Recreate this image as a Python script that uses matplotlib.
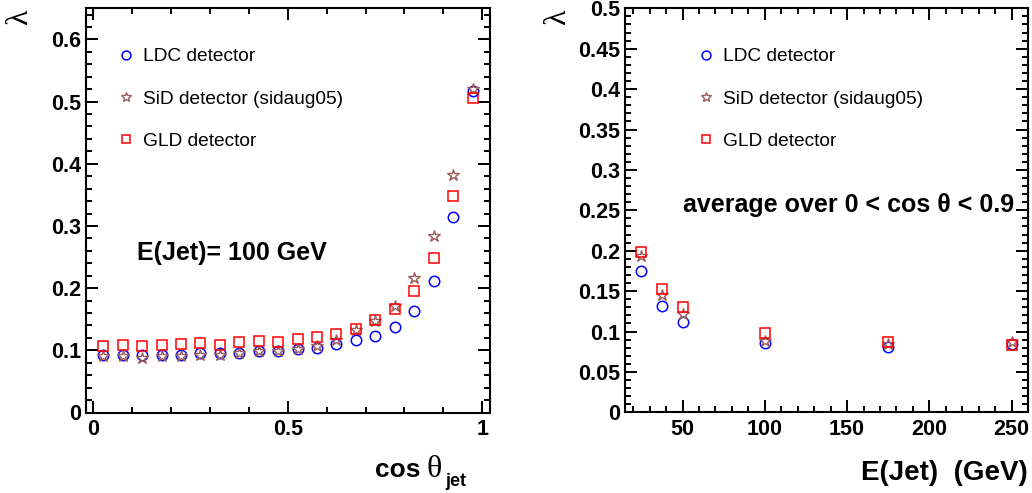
import matplotlib
matplotlib.use("Agg")
import matplotlib.pyplot as plt
from matplotlib.ticker import MultipleLocator, FuncFormatter

# ---- data -------------------------------------------------------------
cos_theta = [0.025, 0.075, 0.125, 0.175, 0.225, 0.275, 0.325, 0.375, 0.425, 0.475,
             0.525, 0.575, 0.625, 0.675, 0.725, 0.775, 0.825, 0.875, 0.925, 0.975]
ldc_cos = [0.0925, 0.0925, 0.0925, 0.0925, 0.093, 0.095, 0.0963, 0.0963, 0.0995, 0.0995,
           0.1016, 0.104, 0.110, 0.116, 0.123, 0.137, 0.163, 0.211, 0.315, 0.517]
sid_cos = [0.0904, 0.091, 0.0877, 0.091, 0.0914, 0.0925, 0.093, 0.0963, 0.0995, 0.0995,
           0.1016, 0.1064, 0.117, 0.132, 0.1476, 0.172, 0.2166, 0.2845, 0.3824, 0.520]
gld_cos = [0.1064, 0.108, 0.1075, 0.1086, 0.1102, 0.1118, 0.1091, 0.1134, 0.1155, 0.1139,
           0.1182, 0.1214, 0.1267, 0.1348, 0.1492, 0.1658, 0.1947, 0.248, 0.3487, 0.5053]

e_jet = [25, 37.5, 50, 100, 175, 250]
ldc_e = [0.1746, 0.1317, 0.1116, 0.0861, 0.0802, 0.0844]
sid_e = [0.194, 0.1453, 0.1219, 0.0881, 0.0848, 0.0869]
gld_e = [0.198, 0.1527, 0.1305, 0.0984, 0.0869, 0.0827]

labels = ["LDC detector", "SiD detector (sidaug05)", "GLD detector"]

# ---- styling ----------------------------------------------------------
SANS = "Liberation Sans"
SERIF = "Liberation Serif"
C_LDC = "#0000ff"
C_SID = "#9a5c5c"
C_GLD = "#ff0000"

W, H = 1032, 493
fig = plt.figure(figsize=(W / 100, H / 100), dpi=100)


def axes_px(left, top, right, bottom):
    return fig.add_axes([left / W, 1 - bottom / H, (right - left) / W, (bottom - top) / H])


def fmt(v, _):
    return "%g" % round(v, 4)


def style_axes(ax):
    for s in ax.spines.values():
        s.set_linewidth(1.5)
    ax.tick_params(which="both", direction="in", top=True, right=True,
                   width=1.4, labelsize=15.5)
    ax.tick_params(which="major", length=8.6, pad=3.5)
    ax.tick_params(which="minor", length=4.3)
    ax.tick_params(axis="x", which="major", pad=5)
    ax.xaxis.set_major_formatter(FuncFormatter(fmt))
    ax.yaxis.set_major_formatter(FuncFormatter(fmt))
    for lab in ax.get_xticklabels() + ax.get_yticklabels():
        lab.set_fontfamily(SANS)
        lab.set_fontweight("bold")


def draw_series(ax, x, ldc, sid, gld):
    ax.plot(x, ldc, ls="none", marker="o", ms=7.5, mfc="none", mec=C_LDC, mew=1.1,
            label=labels[0], clip_on=False)
    ax.plot(x, sid, ls="none", marker="*", ms=9, mfc="none", mec=C_SID, mew=1.0,
            label=labels[1], clip_on=False)
    ax.plot(x, gld, ls="none", marker="s", ms=7, mfc="none", mec=C_GLD, mew=1.1,
            label=labels[2], clip_on=False)


def add_legend(ax, x_px, y_px):
    ax.legend(loc="upper left", bbox_to_anchor=(x_px / W, 1 - y_px / H),
              bbox_transform=fig.transFigure, frameon=False,
              prop={"family": SANS, "size": 13.8}, handlelength=0.8,
              handletextpad=0.5, labelspacing=1.3, borderpad=0, borderaxespad=0,
              markerscale=0.85)


# ---- left panel: lambda vs cos(theta_jet) -----------------------------
ax1 = axes_px(85.7, 8.3, 490, 412.5)
draw_series(ax1, cos_theta, ldc_cos, sid_cos, gld_cos)
ax1.set_xlim(-0.02, 1.02)
ax1.set_ylim(0, 0.65)
ax1.xaxis.set_major_locator(MultipleLocator(0.5))
ax1.xaxis.set_minor_locator(MultipleLocator(0.1))
ax1.yaxis.set_major_locator(MultipleLocator(0.1))
ax1.yaxis.set_minor_locator(MultipleLocator(0.02))
style_axes(ax1)
add_legend(ax1, 118, 48)
fig.text(137 / W, 1 - 253 / H, "E(Jet)= 100 GeV", family=SANS, weight="bold",
         fontsize=18, ha="left", va="center")

# ---- right panel: lambda vs jet energy ---------------------------------
ax2 = axes_px(625, 8.3, 1028, 412.3)
draw_series(ax2, e_jet, ldc_e, sid_e, gld_e)
ax2.set_xlim(15, 260)
ax2.set_ylim(0, 0.5)
ax2.xaxis.set_major_locator(MultipleLocator(50))
ax2.xaxis.set_minor_locator(MultipleLocator(10))
ax2.yaxis.set_major_locator(MultipleLocator(0.05))
ax2.yaxis.set_minor_locator(MultipleLocator(0.01))
style_axes(ax2)
add_legend(ax2, 698, 48)
fig.text(683 / W, 1 - 205 / H, "average over 0 < cos \u03b8 < 0.9", family=SANS,
         weight="bold", fontsize=18, ha="left", va="center")

# ---- axis titles -------------------------------------------------------
for xc in (20, 558):
    fig.text(xc / W, 1 - 17 / H, "\u03bb", family=SERIF, fontsize=23,
             rotation=90, ha="center", va="center")

fig.text(420 / W, 1 - 477 / H, "cos", family=SANS, weight="bold", fontsize=19,
         ha="right", va="baseline")
fig.text(427 / W, 1 - 477 / H, "\u03b8", family=SERIF, fontsize=23,
         ha="left", va="baseline")
fig.text(445 / W, 1 - 486 / H, "jet", family=SANS, weight="bold", fontsize=13,
         ha="left", va="baseline")
fig.text(1028 / W, 1 - 480 / H, "E(Jet)  (GeV)", family=SANS, weight="bold",
         fontsize=20, ha="right", va="baseline")

fig.savefig("out.png", dpi=100)
